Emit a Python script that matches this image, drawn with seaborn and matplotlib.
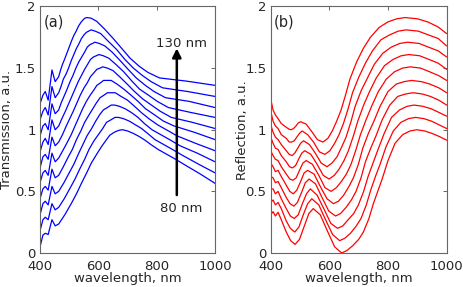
import pandas as pd
import numpy as np
import matplotlib
matplotlib.use("Agg")
import matplotlib.pyplot as plt
import seaborn as sns

# film thickness of each curve, bottom curve first
thickness_nm = [80, 85, 90, 95, 100, 105, 110, 115, 120, 125]

# panel (a): transmission, wavelength (nm) and value for each curve
trans_wl = [
    [400, 410, 418, 428, 441, 452, 464, 485, 507, 525, 542, 560, 576, 594, 610, 625, 639, 655, 670, 683, 700, 720, 740, 760, 780, 805, 835, 865, 900, 950, 1000],
    [400, 410, 418, 428, 441, 452, 464, 483, 504, 520, 536, 553, 568, 585, 600, 615, 628, 643, 657, 669, 686, 706, 727, 748, 769, 794, 824, 854, 890, 944, 1000],
    [400, 410, 418, 428, 441, 452, 464, 482, 500, 516, 531, 547, 561, 577, 591, 604, 617, 631, 644, 656, 672, 692, 713, 736, 758, 784, 814, 844, 880, 939, 1000],
    [400, 410, 418, 428, 441, 452, 464, 480, 497, 511, 525, 540, 553, 568, 581, 594, 606, 619, 631, 642, 658, 678, 700, 724, 747, 773, 803, 833, 870, 933, 1000],
    [400, 410, 418, 428, 441, 452, 464, 478, 494, 507, 520, 533, 546, 559, 572, 584, 595, 607, 618, 629, 644, 664, 687, 712, 736, 762, 793, 823, 860, 928, 1000],
    [400, 410, 418, 428, 441, 452, 464, 477, 490, 502, 514, 527, 538, 551, 562, 573, 584, 595, 606, 615, 631, 650, 673, 699, 724, 752, 782, 812, 850, 922, 1000],
    [400, 410, 418, 428, 441, 452, 464, 475, 487, 498, 509, 520, 531, 542, 553, 563, 573, 583, 593, 602, 617, 636, 660, 687, 713, 741, 772, 802, 840, 917, 1000],
    [400, 410, 418, 428, 441, 452, 464, 473, 484, 493, 503, 513, 523, 533, 543, 553, 562, 571, 580, 588, 603, 622, 647, 675, 702, 730, 761, 791, 830, 911, 1000],
    [400, 410, 418, 428, 441, 452, 464, 472, 480, 489, 498, 507, 516, 525, 534, 542, 551, 559, 567, 575, 589, 608, 633, 663, 691, 720, 751, 781, 820, 906, 1000],
    [400, 410, 418, 428, 441, 452, 464, 470, 477, 484, 492, 500, 508, 516, 524, 532, 540, 547, 554, 561, 575, 594, 620, 651, 680, 709, 740, 770, 810, 900, 1000],
]
trans_val = [
    [0.05, 0.145, 0.16, 0.15, 0.27, 0.22, 0.235, 0.31, 0.40, 0.48, 0.565, 0.65, 0.73, 0.80, 0.86, 0.91, 0.955, 0.98, 0.995, 1.00, 0.99, 0.97, 0.945, 0.915, 0.88, 0.84, 0.80, 0.76, 0.71, 0.64, 0.565],
    [0.18, 0.27, 0.29, 0.27, 0.40, 0.35, 0.37, 0.44, 0.53, 0.60, 0.68, 0.76, 0.84, 0.91, 0.96, 1.01, 1.06, 1.08, 1.10, 1.10, 1.09, 1.07, 1.04, 1.01, 0.97, 0.92, 0.88, 0.84, 0.79, 0.72, 0.65],
    [0.31, 0.40, 0.42, 0.39, 0.54, 0.48, 0.50, 0.57, 0.65, 0.72, 0.80, 0.88, 0.95, 1.01, 1.07, 1.12, 1.16, 1.18, 1.20, 1.20, 1.19, 1.17, 1.14, 1.10, 1.05, 1.00, 0.96, 0.92, 0.87, 0.81, 0.74],
    [0.44, 0.52, 0.54, 0.51, 0.68, 0.61, 0.63, 0.70, 0.78, 0.84, 0.92, 0.99, 1.06, 1.12, 1.17, 1.22, 1.26, 1.28, 1.30, 1.30, 1.30, 1.27, 1.24, 1.19, 1.14, 1.09, 1.04, 1.00, 0.95, 0.89, 0.83],
    [0.57, 0.65, 0.67, 0.63, 0.81, 0.74, 0.77, 0.83, 0.90, 0.96, 1.03, 1.10, 1.17, 1.23, 1.28, 1.32, 1.36, 1.38, 1.40, 1.40, 1.40, 1.37, 1.33, 1.28, 1.23, 1.17, 1.12, 1.07, 1.03, 0.98, 0.92],
    [0.69, 0.78, 0.80, 0.76, 0.94, 0.87, 0.90, 0.96, 1.03, 1.09, 1.15, 1.22, 1.28, 1.34, 1.38, 1.43, 1.46, 1.49, 1.50, 1.51, 1.50, 1.48, 1.43, 1.37, 1.31, 1.25, 1.20, 1.15, 1.10, 1.06, 1.01],
    [0.82, 0.90, 0.93, 0.88, 1.08, 1.00, 1.03, 1.09, 1.15, 1.21, 1.27, 1.33, 1.39, 1.44, 1.49, 1.53, 1.57, 1.59, 1.60, 1.61, 1.60, 1.58, 1.53, 1.47, 1.40, 1.33, 1.28, 1.23, 1.18, 1.14, 1.10],
    [0.95, 1.03, 1.05, 1.00, 1.21, 1.13, 1.16, 1.22, 1.28, 1.33, 1.39, 1.44, 1.50, 1.55, 1.59, 1.63, 1.67, 1.69, 1.70, 1.71, 1.70, 1.68, 1.63, 1.56, 1.49, 1.42, 1.36, 1.31, 1.26, 1.23, 1.18],
    [1.08, 1.15, 1.18, 1.12, 1.35, 1.26, 1.30, 1.35, 1.41, 1.45, 1.50, 1.56, 1.61, 1.66, 1.70, 1.74, 1.77, 1.79, 1.80, 1.81, 1.80, 1.78, 1.72, 1.65, 1.57, 1.50, 1.44, 1.39, 1.34, 1.31, 1.27],
    [1.21, 1.28, 1.31, 1.24, 1.485, 1.39, 1.43, 1.48, 1.53, 1.57, 1.62, 1.67, 1.72, 1.765, 1.80, 1.84, 1.87, 1.89, 1.905, 1.91, 1.905, 1.88, 1.82, 1.74, 1.66, 1.58, 1.515, 1.465, 1.42, 1.395, 1.36],
]

# panel (b): reflection
refl_wl = [
    [400, 408, 416, 425, 436, 453, 468, 483, 498, 514, 530, 545, 569, 593, 618, 642, 660, 680, 700, 716, 735, 750, 765, 780, 800, 824, 850, 875, 898, 925, 950, 975, 1000],
    [400, 408, 416, 425, 436, 453, 467, 482, 496, 511, 526, 540, 564, 587, 611, 635, 653, 672, 692, 708, 726, 741, 757, 773, 793, 818, 844, 870, 894, 922, 948, 974, 1000],
    [400, 408, 416, 425, 436, 453, 467, 480, 494, 508, 522, 535, 558, 581, 605, 628, 646, 664, 683, 699, 717, 732, 749, 766, 787, 812, 839, 865, 889, 919, 947, 974, 1000],
    [400, 408, 416, 425, 436, 453, 466, 479, 491, 505, 518, 531, 553, 575, 598, 621, 638, 657, 675, 691, 708, 723, 741, 759, 780, 806, 833, 860, 885, 917, 945, 973, 1000],
    [400, 408, 416, 425, 436, 453, 465, 477, 489, 502, 514, 526, 548, 569, 592, 614, 631, 649, 667, 682, 699, 714, 733, 752, 773, 800, 828, 855, 880, 914, 943, 973, 1000],
    [400, 408, 416, 425, 436, 453, 465, 476, 487, 498, 510, 521, 542, 564, 585, 606, 624, 641, 658, 674, 691, 706, 725, 744, 767, 794, 822, 850, 876, 911, 942, 972, 1000],
    [400, 408, 416, 425, 436, 453, 464, 474, 485, 495, 506, 516, 537, 558, 579, 599, 617, 633, 650, 665, 682, 697, 717, 737, 760, 788, 817, 845, 871, 908, 940, 971, 1000],
    [400, 408, 416, 425, 436, 453, 463, 473, 482, 492, 502, 512, 532, 552, 572, 592, 609, 626, 642, 657, 673, 688, 709, 730, 753, 782, 811, 840, 867, 906, 938, 971, 1000],
    [400, 408, 416, 425, 436, 453, 463, 471, 480, 489, 498, 507, 526, 546, 566, 585, 602, 618, 633, 648, 664, 679, 701, 723, 747, 776, 806, 835, 862, 903, 937, 971, 1000],
    [400, 408, 416, 425, 436, 453, 462, 470, 478, 486, 494, 502, 521, 540, 559, 578, 595, 610, 625, 640, 655, 670, 693, 716, 740, 770, 800, 830, 858, 900, 935, 970, 1000],
]
refl_val = [
    [0.31, 0.335, 0.30, 0.33, 0.27, 0.17, 0.10, 0.07, 0.11, 0.215, 0.32, 0.36, 0.31, 0.18, 0.05, 0.00, 0.02, 0.06, 0.11, 0.17, 0.28, 0.40, 0.50, 0.60, 0.75, 0.89, 0.96, 0.99, 1.00, 0.99, 0.97, 0.945, 0.915],
    [0.41, 0.43, 0.39, 0.41, 0.36, 0.26, 0.20, 0.17, 0.21, 0.31, 0.40, 0.44, 0.39, 0.27, 0.15, 0.10, 0.12, 0.16, 0.22, 0.28, 0.39, 0.51, 0.62, 0.72, 0.86, 0.99, 1.06, 1.09, 1.10, 1.09, 1.07, 1.04, 1.01],
    [0.52, 0.52, 0.48, 0.50, 0.44, 0.36, 0.30, 0.28, 0.31, 0.40, 0.48, 0.52, 0.47, 0.36, 0.24, 0.20, 0.22, 0.27, 0.32, 0.39, 0.50, 0.62, 0.73, 0.84, 0.97, 1.10, 1.16, 1.19, 1.20, 1.19, 1.17, 1.14, 1.11],
    [0.62, 0.61, 0.57, 0.58, 0.53, 0.45, 0.40, 0.38, 0.41, 0.49, 0.57, 0.60, 0.56, 0.45, 0.34, 0.30, 0.32, 0.37, 0.43, 0.50, 0.61, 0.74, 0.85, 0.95, 1.08, 1.20, 1.27, 1.29, 1.30, 1.29, 1.27, 1.24, 1.20],
    [0.73, 0.70, 0.66, 0.67, 0.62, 0.55, 0.50, 0.48, 0.51, 0.58, 0.65, 0.67, 0.64, 0.54, 0.44, 0.40, 0.42, 0.47, 0.54, 0.61, 0.72, 0.85, 0.97, 1.07, 1.19, 1.31, 1.37, 1.39, 1.40, 1.39, 1.37, 1.34, 1.30],
    [0.83, 0.79, 0.76, 0.75, 0.70, 0.64, 0.60, 0.59, 0.61, 0.67, 0.73, 0.75, 0.72, 0.63, 0.53, 0.50, 0.53, 0.58, 0.64, 0.72, 0.84, 0.96, 1.08, 1.19, 1.31, 1.41, 1.47, 1.50, 1.51, 1.50, 1.47, 1.44, 1.40],
    [0.94, 0.89, 0.85, 0.84, 0.79, 0.74, 0.70, 0.69, 0.71, 0.76, 0.81, 0.83, 0.80, 0.72, 0.63, 0.60, 0.63, 0.68, 0.75, 0.83, 0.95, 1.07, 1.20, 1.31, 1.42, 1.52, 1.57, 1.60, 1.61, 1.60, 1.57, 1.54, 1.49],
    [1.04, 0.98, 0.94, 0.92, 0.88, 0.83, 0.80, 0.79, 0.81, 0.85, 0.89, 0.91, 0.88, 0.81, 0.73, 0.70, 0.73, 0.78, 0.86, 0.94, 1.06, 1.19, 1.32, 1.42, 1.53, 1.62, 1.67, 1.70, 1.71, 1.70, 1.67, 1.64, 1.59],
    [1.15, 1.07, 1.03, 1.01, 0.96, 0.93, 0.90, 0.90, 0.91, 0.94, 0.97, 0.99, 0.96, 0.90, 0.82, 0.80, 0.83, 0.89, 0.96, 1.05, 1.17, 1.30, 1.43, 1.54, 1.64, 1.73, 1.77, 1.80, 1.81, 1.80, 1.77, 1.74, 1.68],
    [1.25, 1.16, 1.12, 1.09, 1.05, 1.02, 1.005, 1.00, 1.01, 1.03, 1.055, 1.065, 1.045, 0.985, 0.92, 0.90, 0.93, 0.99, 1.07, 1.16, 1.28, 1.41, 1.55, 1.66, 1.75, 1.83, 1.875, 1.90, 1.91, 1.90, 1.875, 1.835, 1.78],
]

y_ticks = [0, 0.5, 1, 1.5, 2]
y_ticklabels = ["0", "0.5", "1", "1.5", "2"]
x_ticks = [400, 600, 800, 1000]


def to_long(wls, vals):
    rows = []
    for t, wl, v in zip(thickness_nm, wls, vals):
        for w, y in zip(wl, v):
            rows.append({"thickness": t, "wavelength": w, "value": y})
    return pd.DataFrame(rows)


trans_df = to_long(trans_wl, trans_val)
refl_df = to_long(refl_wl, refl_val)

sns.set_style("white")
plt.rcParams["font.family"] = ["DejaVu Sans"]

fig = plt.figure(figsize=(4.63, 2.87), dpi=100)
ax_a = fig.add_axes([0.0864, 0.1185, 0.378, 0.859])
ax_b = fig.add_axes([0.5847, 0.1185, 0.380, 0.859])

spine_col = "#666666"

for ax, df, col, ylab, tag, ylab_x in [
    (ax_a, trans_df, "#0000ff", "Transmission, a.u.", "(a)", -0.152),
    (ax_b, refl_df, "#ff0000", "Reflection, a.u.", "(b)", -0.125),
]:
    sns.lineplot(data=df, x="wavelength", y="value", hue="thickness",
                 units="thickness", estimator=None, sort=False,
                 palette=[col] * len(thickness_nm), linewidth=0.9,
                 legend=False, ax=ax)
    ax.set_xlim(400, 1000)
    ax.set_ylim(0, 2)
    ax.set_xticks(x_ticks)
    ax.set_xticklabels([str(x) for x in x_ticks])
    ax.set_yticks(y_ticks)
    ax.set_yticklabels(y_ticklabels)
    ax.tick_params(direction="in", top=True, right=True, length=3,
                   width=0.7, color=spine_col, labelsize=9.5)
    ax.tick_params(axis="x", pad=5)
    ax.tick_params(axis="y", pad=3)
    for s in ax.spines.values():
        s.set_color(spine_col)
        s.set_linewidth(0.8)
    ax.set_xlabel("wavelength, nm", fontsize=9.5, labelpad=-1)
    ax.set_ylabel(ylab, fontsize=9.5)
    ax.yaxis.set_label_coords(ylab_x, 0.5)
    ax.text(0.02, 0.935, tag, transform=ax.transAxes, fontsize=10.5,
            ha="left", va="center")

# thickness arrow in panel (a)
ax_a.annotate("", xy=(869, 1.66), xytext=(869, 0.47),
              arrowprops=dict(arrowstyle="-|>", color="black", lw=1.8,
                              mutation_scale=13, shrinkA=0, shrinkB=0))
ax_a.text(885, 1.70, "130 nm", fontsize=9.5, ha="center", va="center")
ax_a.text(883, 0.36, "80 nm", fontsize=9.5, ha="center", va="center")

fig.savefig("out.png", dpi=100)
